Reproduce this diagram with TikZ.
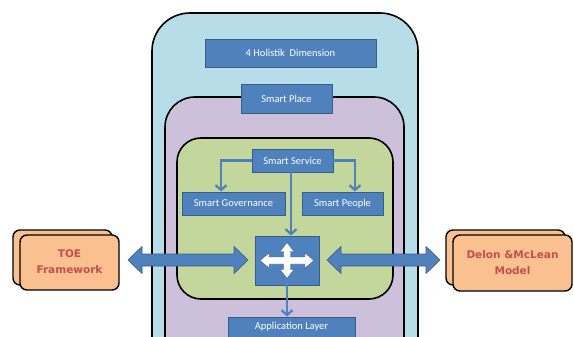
\documentclass[tikz,border=0pt]{standalone}
\usepackage{fontspec}
\setmainfont{Carlito}
\newfontfamily\boldf{DejaVu Sans}
\usetikzlibrary{arrows.meta}
\definecolor{boxblue}{HTML}{4F81BD}
\definecolor{boxedge}{HTML}{385D8A}
\definecolor{outerblue}{HTML}{B7DEE8}
\definecolor{lilac}{HTML}{CCC0DA}
\definecolor{lime}{HTML}{C3D69B}
\definecolor{peach}{HTML}{FAC090}
\definecolor{redtxt}{HTML}{C0504D}
\tikzset{
  bluebox/.style={draw=boxedge, line width=0.8pt, fill=boxblue, text=white, inner sep=0pt,
    font=\fontsize{10.5}{12}\selectfont},
  layer/.style={draw=black, line width=1.6pt},
  conn/.style={draw=boxblue, line width=2.2pt, -{Straight Barb[length=5pt,width=11pt,line width=2.2pt]}},
  bigarrow/.style={fill=boxblue, draw=boxedge, line width=0.6pt},
  card/.style={draw=black, line width=1.4pt, fill=peach, rounded corners=7pt},
  cardtext/.style={text=redtxt, font=\boldf\bfseries\fontsize{10.5}{16}\selectfont, align=center}
}
\begin{document}
\begin{tikzpicture}[x=1pt,y=-1pt]
\useasboundingbox (0,0) rectangle (574,337);
\clip (0,0) rectangle (574,337);
% layers
\path[layer, fill=outerblue, rounded corners=38pt] (152,13) rectangle (418,380);
\path[layer, fill=lilac, rounded corners=30pt] (165,97) rectangle (404,370);
\path[layer, fill=lime, rounded corners=24pt] (177,138) rectangle (393,299);
% boxes
\node[bluebox, minimum width=171pt, minimum height=28pt] (dim) at (290.5,53) {4 Holistik\ \ Dimension};
\node[bluebox, minimum width=91pt, minimum height=29pt] (place) at (286.5,98.5) {Smart Place};
\node[bluebox, minimum width=81pt, minimum height=23pt] (ss) at (292.5,160.5) {Smart Service};
\node[bluebox, minimum width=103pt, minimum height=23pt] (gov) at (233.5,203.5) {Smart Governance};
\node[bluebox, minimum width=81pt, minimum height=23pt] (people) at (342.5,203.5) {Smart People};
\node[bluebox, minimum width=64pt, minimum height=49pt] (hub) at (287,260.5) {};
\node[bluebox, minimum width=127pt, minimum height=30pt] (app) at (291.5,332) {};
\node[text=white, font=\fontsize{10.5}{12}\selectfont] (applbl) at (291.5,327) {Application Layer};
% white cross
\path[fill=white, draw=boxedge, line width=0.4pt, shift={(hub.center)}]
  (27,0) -- (18,-7.5) -- (18,-3.5) -- (3.5,-3.5) -- (3.5,-9) -- (7,-9) -- (0,-18) -- (-7,-9)
  -- (-3.5,-9) -- (-3.5,-3.5) -- (-18,-3.5) -- (-18,-7.5) -- (-27,0) -- (-18,7.5) -- (-18,3.5)
  -- (-3.5,3.5) -- (-3.5,9) -- (-7,9) -- (0,18) -- (7,9) -- (3.5,9) -- (3.5,3.5) -- (18,3.5)
  -- (18,7.5) -- cycle;
% connectors
\draw[conn] (ss.west) -| ([xshift=-12.5pt]gov.north);
\draw[conn] (ss.east) -| ([xshift=12.5pt]people.north);
\draw[conn] ([xshift=-1.5pt]ss.south) -- ([xshift=-1.5pt]ss.south |- hub.north);
\draw[conn] (hub.south) -- (hub.south |- app.north);
% cards
\path[card] (13,230) rectangle (112,285);
\path[card] (20,235) rectangle (119,290);
\node[cardtext] (toe) at (69.5,262) {TOE\\Framework};
\path[card] (446,230) rectangle (565,285);
\path[card] (453,235) rectangle (572,291);
\node[cardtext] (delon) at (512.5,263) {Delon \&McLean\\Model};
% big double arrows
\path[bigarrow] (128,260) -- (142,246.5) -- (142,254) -- (234,254) -- (234,246.5) -- (248,260)
  -- (234,273.5) -- (234,266) -- (142,266) -- (142,273.5) -- cycle;
\path[bigarrow] (327,260) -- (341,246.5) -- (341,254) -- (426,254) -- (426,246.5) -- (440,260)
  -- (426,273.5) -- (426,266) -- (341,266) -- (341,273.5) -- cycle;
\end{tikzpicture}
\end{document}
